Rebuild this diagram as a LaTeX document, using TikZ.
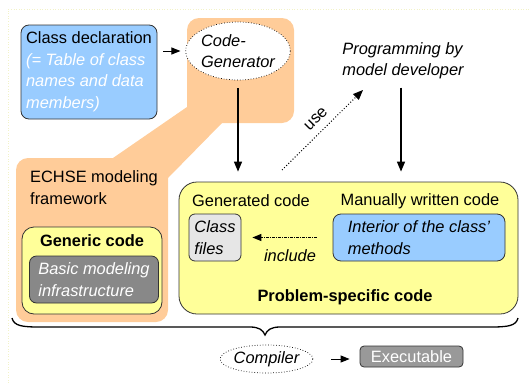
\documentclass[tikz,border=0pt]{standalone}
\usepackage{fontspec}
\setmainfont{Liberation Sans}
\usetikzlibrary{arrows.meta,shapes.geometric}
\definecolor{boxblue}{HTML}{99CCFF}
\definecolor{frameorange}{HTML}{FFCC99}
\definecolor{codeyellow}{HTML}{FFFF99}
\definecolor{infragray}{HTML}{888888}
\definecolor{filegray}{HTML}{E6E6E6}
\definecolor{exegray}{HTML}{999999}
\definecolor{pagefaint}{HTML}{F2F2C8}
\definecolor{edgegray}{HTML}{333333}
\newcommand\dfont{\fontsize{16.4}{21.5}\selectfont}
\newcommand\wit{\color{white}\itshape}
\begin{document}
\begin{tikzpicture}[x=1pt,y=-1pt,
  txt/.style={font=\dfont, inner sep=0pt},
  itxt/.style={font=\dfont\itshape, inner sep=0pt},
  btxt/.style={font=\dfont\bfseries, inner sep=0pt},
  box/.style={draw=edgegray, line width=0.8pt, rounded corners=8pt, inner sep=0pt},
  arrow/.style={-{Triangle[length=10pt,width=8pt]}, line width=1.4pt},
  thinarrow/.style={-{Triangle[length=9pt,width=7pt]}, line width=1pt},
  oval/.style={draw, dotted, line width=0.7pt, ellipse, fill=white, inner sep=0pt}]
\useasboundingbox (0,0) rectangle (529,383);

% faint page frame
\draw[pagefaint, dotted, line width=0.6pt] (8,383) -- (8,9) -- (529,9);

% orange region of the ECHSE framework
\fill[frameorange, rounded corners=12pt] (187,18) rectangle (294,123);
\fill[frameorange, rounded corners=12pt] (16,158) rectangle (168,322);
\fill[frameorange] (187,107) -- (222,123) -- (168,178) -- (113,158) -- cycle;

% class declaration
\node[box, fill=boxblue, minimum width=136pt, minimum height=94pt,
      align=left, font=\dfont] (decl) at (89,72)
  {Class declaration\\ \wit(= Table of class\\ \wit names and data\\ \wit members)};

% code generator
\node[oval, minimum width=101pt, minimum height=58pt, align=left, font=\dfont\itshape]
  (gen) at (238,51) {Code-\\Generator};

% programming by the model developer
\node[itxt, align=left] (prog) at (403,61) {Programming by\\model developer};

% framework label and generic code
\node[txt, align=left, anchor=west] (echse) at (30,187.5) {ECHSE modeling\\framework};
\node[box, fill=codeyellow, minimum width=140pt, minimum height=87pt, rounded corners=12pt]
  (generic) at (92,270.5) {};
\node[btxt] (generictitle) at (92,241) {Generic code};
\node[box, fill=infragray, minimum width=129pt, minimum height=47pt,
      align=left, text=white, font=\dfont\itshape, rounded corners=7pt]
  (infra) at (94,279.5) {Basic modeling\\infrastructure};

% problem-specific code
\node[box, fill=codeyellow, minimum width=339pt, minimum height=132pt, rounded corners=18pt]
  (prob) at (348.5,248) {};
\node[txt] (gencode) at (251,201) {Generated code};
\node[txt] (manual) at (420,201) {Manually written code};
\node[box, fill=filegray, minimum width=52pt, minimum height=47pt,
      align=left, font=\dfont\itshape, rounded corners=6pt]
  (files) at (215,237.5) {Class\\files};
\node[box, fill=boxblue, minimum width=172pt, minimum height=47pt,
      align=left, font=\dfont\itshape, rounded corners=8pt]
  (interior) at (419,237.5) {Interior of the class'\\methods};
\node[itxt] (inclabel) at (290,256) {include};
\node[btxt] (probtitle) at (345,297) {Problem-specific code};

% connectors
\draw[thinarrow, shorten <=6pt, shorten >=5pt] (decl.east |- gen.west) -- (gen.west);
\draw[arrow, shorten <=8pt, shorten >=10pt] (gen.south) -- (gen.south |- prob.north);
\draw[arrow, shorten <=8pt, shorten >=10pt] ([xshift=-2pt]prog.south) -- ([xshift=-2pt]prog.south |- prob.north);
\draw[thinarrow, densely dashdotted, shorten <=16pt, shorten >=11pt] (interior.west) -- (files.east);

\coordinate (usefoot) at (282,170);
\coordinate (usetip) at (363,90);
\draw[dotted, line width=1pt, -{Triangle[length=10pt,width=8pt]}] (usefoot) -- (usetip);
\node[txt, rotate=45] (uselabel) at (316,119) {use};

% brace gathering all code
\coordinate (braceL) at (12,318);
\coordinate (braceR) at (518,318);
\coordinate (braceTip) at (265,335);
\draw[line width=1.3pt]
  (braceL) .. controls (14,326) and (22,327) .. (40,327) -- (250,327)
  .. controls (259,327) and (263,330) .. (braceTip)
  .. controls (267,330) and (271,327) .. (280,327) -- (490,327)
  .. controls (508,327) and (516,326) .. (braceR);

% compilation
\node[oval, minimum width=91pt, minimum height=28pt, font=\dfont\itshape] (comp) at (266.5,359) {Compiler};
\node[box, fill=exegray, minimum width=103pt, minimum height=21pt, text=white, font=\dfont,
      rounded corners=4pt] (exe) at (411.5,356.5) {Executable};
\draw[thinarrow, shorten <=18pt, shorten >=10pt] (comp.east) -- (comp.east -| exe.west);
\end{tikzpicture}
\end{document}
